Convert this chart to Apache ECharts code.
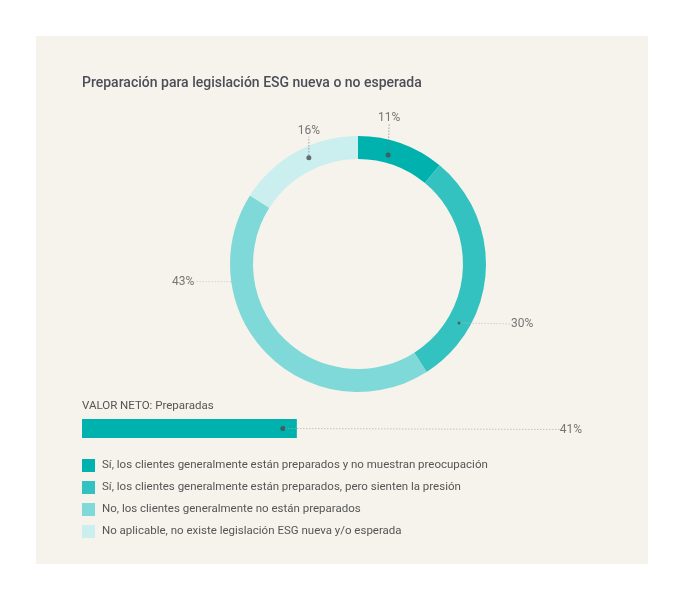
<!DOCTYPE html>
<html>
<head>
<meta charset="utf-8">
<script src="https://cdn.jsdelivr.net/npm/echarts@6/dist/echarts.min.js"></script>
<style>
  html, body { margin: 0; padding: 0; background: #ffffff; }
  #panel { position: absolute; left: 36px; top: 36px; width: 612px; height: 528px; background: #f6f3ec; }
  #chart { position: absolute; left: 0; top: 0; width: 684px; height: 600px; }
</style>
</head>
<body>
<div id="panel"></div>
<div id="chart"></div>
<script>
// ---- data ----
const titleText = 'Preparación para legislación ESG nueva o no esperada';
const categories = [
  'Sí, los clientes generalmente están preparados y no muestran preocupación',
  'Sí, los clientes generalmente están preparados, pero sienten la presión',
  'No, los clientes generalmente no están preparados',
  'No aplicable, no existe legislación ESG nueva y/o esperada'
];
const shares = [11, 30, 43, 16];
const netLabel = 'VALOR NETO: Preparadas';
const netValue = [41];

// ---- style / layout ----
const colors = ['#00b2ae', '#33c2c0', '#80d9d9', '#cbeeee'];
const font = 'Roboto, "Noto Sans", sans-serif';
const textColor = '#4d4d57';
// label anchor on the ring: [radius px, position along ring in % of circle]
const labelAnchors = [[113, 4.3], [117, 33.4], [128, 72.8], [117, 93.1]];
const labelOffsets = [[1, -37], [63, 1], [-48, 0], [0, -27]];
const anchorDot = [5, 3, 1, 5];
const anchorLineColor = ['#777777', '#bbbbbb', '#c4c4c4', '#777777'];

const chart = echarts.init(document.getElementById('chart'), null, { renderer: 'canvas' });

const anchorData = labelAnchors.map((a, i) => ({
  value: [a[0], a[1]],
  symbolSize: anchorDot[i],
  itemStyle: { color: i === 2 ? '#c4c4c4' : '#4a4a55' },
  labelLine: { show: true, lineStyle: { color: anchorLineColor[i], type: [1, 2], width: 1 } }
}));

const option = {
  animation: false,
  title: [
    { text: titleText, left: 82, top: 76, padding: 0,
      textStyle: { fontFamily: font, fontSize: 14, fontWeight: 500, color: textColor } },
    { text: netLabel, left: 82, top: 400, padding: 0,
      textStyle: { fontFamily: font, fontSize: 11.5, fontWeight: 'normal', color: '#555555' } }
  ],
  legend: {
    data: categories,
    orient: 'vertical',
    left: 82,
    top: 459,
    padding: 0,
    itemWidth: 13,
    itemHeight: 13,
    itemGap: 9,
    icon: 'rect',
    selectedMode: false,
    textStyle: { fontFamily: font, fontSize: 11.5, fontWeight: 'normal', color: '#555555', padding: [0, 0, 0, 2] }
  },
  polar: { center: [358, 264], radius: 128 },
  angleAxis: {
    type: 'value', min: 0, max: 100, startAngle: 90, clockwise: true,
    axisLine: { show: false }, axisTick: { show: false }, axisLabel: { show: false }, splitLine: { show: false }
  },
  radiusAxis: {
    type: 'value', min: 0, max: 128,
    axisLine: { show: false }, axisTick: { show: false }, axisLabel: { show: false }, splitLine: { show: false }
  },
  grid: { left: 82, top: 419, width: 524, height: 19 },
  xAxis: { type: 'value', min: 0, max: 100, show: false },
  yAxis: { type: 'category', data: ['net'], show: false },
  series: [
    {
      type: 'pie',
      center: [358, 264],
      radius: [105, 128],
      startAngle: 90,
      clockwise: true,
      silent: true,
      label: { show: false },
      labelLine: { show: false },
      itemStyle: { borderWidth: 0 },
      data: categories.map((c, i) => ({ name: c, value: shares[i], itemStyle: { color: colors[i] } })),
      z: 1
    },
    {
      type: 'scatter',
      coordinateSystem: 'polar',
      silent: true,
      symbol: 'circle',
      data: anchorData,
      label: {
        show: true,
        position: 'inside',
        formatter: p => shares[p.dataIndex] + '%',
        fontFamily: font, fontSize: 12, fontWeight: 'normal', color: '#555555'
      },
      labelLayout: p => ({ dx: labelOffsets[p.dataIndex][0], dy: labelOffsets[p.dataIndex][1] }),
      z: 5
    },
    {
      type: 'bar',
      data: netValue,
      barWidth: 19,
      silent: true,
      itemStyle: { color: colors[0] },
      z: 2
    },
    {
      type: 'scatter',
      silent: true,
      symbol: 'circle',
      symbolSize: 5,
      symbolOffset: [-14, 0],
      itemStyle: { color: '#4a4a55' },
      data: netValue.map(v => [v, 0]),
      label: {
        show: true,
        position: 'inside',
        formatter: p => netValue[p.dataIndex] + '%',
        fontFamily: font, fontSize: 12, fontWeight: 'normal', color: '#555555'
      },
      labelLine: { show: true, lineStyle: { color: '#aaaaaa', type: [1, 2], width: 1 } },
      labelLayout: () => ({ dx: 288, dy: 1 }),
      z: 5
    }
  ]
};
chart.setOption(option);
</script>
</body>
</html>
